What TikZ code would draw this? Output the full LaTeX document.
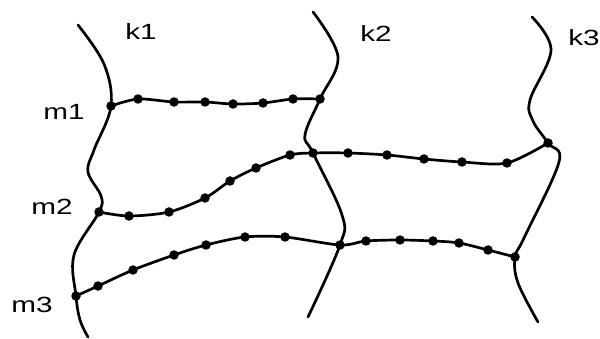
\documentclass[tikz,border=0pt]{standalone}
\usepackage{fontspec}
\setmainfont{Liberation Sans}
\newfontfamily\labelfont{Liberation Sans}[FakeStretch=1.35]
\begin{document}
\begin{tikzpicture}[x=1pt,y=-1pt,
  bead/.style={circle, fill=black, inner sep=0pt, minimum size=9.5pt},
  wire/.style={line width=2.7pt, line cap=round, line join=round},
  tag/.style={font=\labelfont\fontsize{22}{22}\selectfont, inner sep=0pt}]
\useasboundingbox (0,0) rectangle (600,339);

% junctions of the m-lines with the k-curves
\node[bead] (a1) at (111,106) {};
\node[bead] (a2) at (320,99) {};
\node[bead] (b1) at (99,212) {};
\node[bead] (b2) at (313,153) {};
\node[bead] (b3) at (548,143) {};
\node[bead] (c1) at (76,296) {};
\node[bead] (c2) at (340,245) {};
\node[bead] (c3) at (515,257) {};

% beads along m1
\node[bead] (p1) at (138,99) {};
\node[bead] (p2) at (174,102) {};
\node[bead] (p3) at (205,102) {};
\node[bead] (p4) at (233,104) {};
\node[bead] (p5) at (263,103) {};
\node[bead] (p6) at (293,99) {};

% beads along m2
\node[bead] (q1) at (129,216) {};
\node[bead] (q2) at (169,212) {};
\node[bead] (q3) at (205,198) {};
\node[bead] (q4) at (230,181) {};
\node[bead] (q5) at (256,168) {};
\node[bead] (q6) at (290,155) {};
\node[bead] (q7) at (348,153) {};
\node[bead] (q8) at (387,155) {};
\node[bead] (q9) at (424,159) {};
\node[bead] (q10) at (462,162) {};
\node[bead] (q11) at (507,163) {};

% beads along m3
\node[bead] (r1) at (98,286) {};
\node[bead] (r2) at (133,270) {};
\node[bead] (r3) at (174,255) {};
\node[bead] (r4) at (206,245) {};
\node[bead] (r5) at (245,237) {};
\node[bead] (r6) at (285,237) {};
\node[bead] (r7) at (366,241) {};
\node[bead] (r8) at (400,240) {};
\node[bead] (r9) at (433,241) {};
\node[bead] (r10) at (459,243) {};
\node[bead] (r11) at (488,250) {};

% free ends and bends of the k-curves
\coordinate (k1top) at (78,25);
\coordinate (k1u) at (104,64);
\coordinate (k1v) at (94,150);
\coordinate (k1w) at (88,172);
\coordinate (k1x) at (101,196);
\coordinate (k1y) at (74,255);
\coordinate (k1z) at (80,320);
\coordinate (k1bot) at (88,337);

\coordinate (k2top) at (313,12);
\coordinate (k2u) at (338,57);
\coordinate (k2v) at (305,135);
\coordinate (k2w) at (342,215);
\coordinate (k2bot) at (308,317);

\coordinate (k3top) at (532,17);
\coordinate (k3u) at (551,50);
\coordinate (k3v) at (530,100);
\coordinate (k3w) at (533,121);
\coordinate (k3x) at (559,162);
\coordinate (k3y) at (524,238);
\coordinate (k3z) at (518,283);
\coordinate (k3bot) at (538,322);

% k-curves
\draw[wire] plot[smooth, tension=0.6] coordinates {(k1top) (k1u) (a1) (k1v) (k1w) (k1x) (b1) (k1y) (c1) (k1z) (k1bot)};
\draw[wire] plot[smooth, tension=0.6] coordinates {(k2top) (k2u) (a2) (k2v) (b2) (k2w) (c2) (k2bot)};
\draw[wire] plot[smooth, tension=0.6] coordinates {(k3top) (k3u) (k3v) (k3w) (b3) (k3x) (k3y) (c3) (k3z) (k3bot)};

% m-lines
\draw[wire] plot[smooth, tension=0.5] coordinates {(a1) (p1) (p2) (p3) (p4) (p5) (p6) (a2)};
\draw[wire] plot[smooth, tension=0.5] coordinates {(b1) (q1) (q2) (q3) (q4) (q5) (q6) (b2) (q7) (q8) (q9) (q10) (q11) (b3)};
\draw[wire] plot[smooth, tension=0.5] coordinates {(c1) (r1) (r2) (r3) (r4) (r5) (r6) (c2) (r7) (r8) (r9) (r10) (r11) (c3)};

% labels
\node[tag] (lk1) at (141,32) {k1};
\node[tag] (lk2) at (376,34) {k2};
\node[tag] (lk3) at (584,38) {k3};
\node[tag] (lm1) at (64,112) {m1};
\node[tag] (lm2) at (52,207) {m2};
\node[tag] (lm3) at (32,305) {m3};
\end{tikzpicture}
\end{document}
